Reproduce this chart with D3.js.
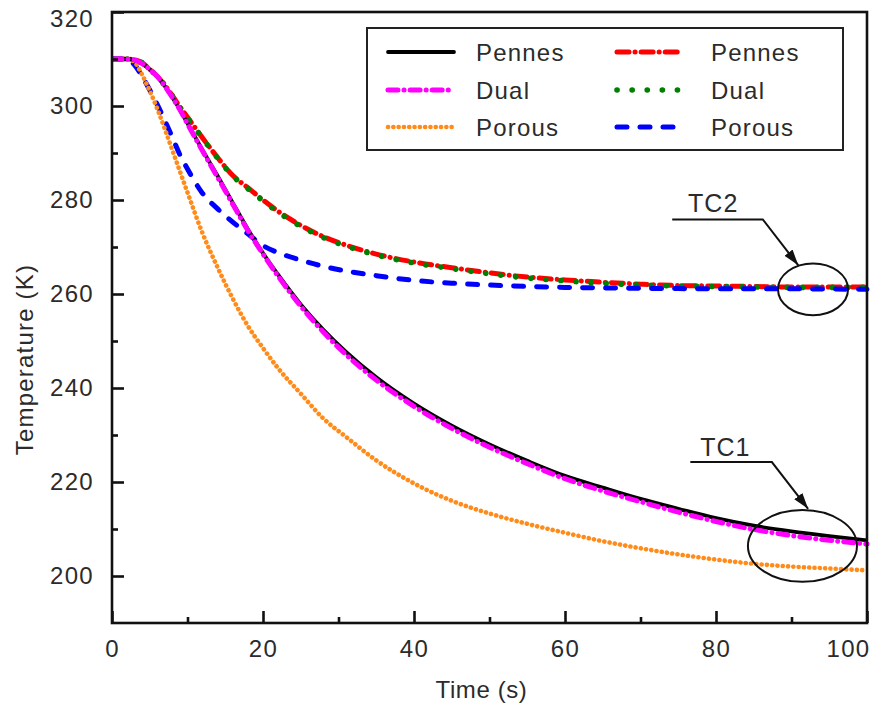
<!DOCTYPE html>
<html>
<head>
<meta charset="utf-8">
<script src="https://cdn.jsdelivr.net/npm/d3@7/dist/d3.min.js"></script>
<style>
  html, body { margin: 0; padding: 0; background: #fff; }
  svg text { font-family: "Liberation Sans", Arial, sans-serif; fill: #2b2b2b; }
</style>
</head>
<body>
<svg id="chart" width="881" height="707"></svg>
<script>
// ---------- data ----------
const timeTC1 = [0, 2, 3, 4, 5, 6, 7, 8, 9, 10, 12, 14, 16, 18, 20, 22, 25, 28, 31, 35, 40, 45, 50, 55, 60, 65, 70, 75, 80, 85, 90, 95, 100];
const pennesTC1 = [310, 310, 309.8, 309, 307.8, 306.3, 304.2, 301.8, 299.2, 296.3, 290.6, 285.1, 279.4, 273.8, 268.7, 264.1, 257.8, 252.4, 247.7, 242.3, 236.7, 232.0, 228.0, 224.5, 221.3, 218.8, 216.4, 214.3, 212.3, 210.7, 209.5, 208.5, 207.6];
const dualTC1 = [310, 310, 309.8, 309, 307.8, 306.3, 304.2, 301.8, 299.2, 296.2, 290.4, 284.8, 279.1, 273.5, 268.5, 263.8, 257.4, 251.9, 247.1, 241.7, 236.1, 231.4, 227.4, 223.9, 220.7, 218.1, 215.8, 213.6, 211.6, 209.9, 208.6, 207.6, 206.8];
const porousTC1 = [310, 310, 309.3, 306.6, 303.2, 299.4, 295.1, 290.6, 286.1, 281.6, 272.9, 265.6, 259.0, 253.2, 248.5, 244.2, 238.8, 233.5, 229.6, 224.6, 219.7, 216.0, 213.3, 211.1, 209.2, 207.4, 205.9, 204.6, 203.5, 202.6, 202.0, 201.6, 201.2];

const timeTC2 = [0, 2, 3, 4, 5, 6, 7, 8, 9, 10, 12, 14, 16, 18, 20, 22, 25, 28, 31, 35, 40, 45, 50, 55, 60, 65, 70, 75, 80, 85, 90, 95, 100];
const pennesTC2 = [310, 310, 309.8, 309.2, 307.8, 306.3, 304.4, 302.2, 299.8, 297.6, 293.2, 289.0, 285.2, 282.6, 280.0, 277.6, 274.6, 272.2, 270.4, 268.5, 266.8, 265.6, 264.5, 263.6, 263.0, 262.5, 262.1, 261.8, 261.7, 261.6, 261.5, 261.5, 261.5];
const dualTC2 = [310, 310, 309.8, 309.2, 307.8, 306.3, 304.4, 302.1, 299.7, 297.5, 293.1, 288.9, 285.1, 282.4, 279.8, 277.4, 274.4, 272.0, 270.2, 268.3, 266.6, 265.4, 264.3, 263.4, 262.8, 262.3, 261.9, 261.7, 261.6, 261.5, 261.4, 261.4, 261.4];
const porousTC2 = [310, 310, 308.7, 306.3, 303.4, 300.3, 296.9, 293.3, 289.6, 286.6, 281.4, 278.1, 275.3, 272.8, 270.3, 268.8, 267.2, 265.9, 264.9, 263.9, 262.9, 262.3, 261.9, 261.6, 261.4, 261.3, 261.2, 261.15, 261.1, 261.1, 261.1, 261.05, 261.0];

const xTicks = [0, 20, 40, 60, 80, 100];
const xMinorTicks = [10, 30, 50, 70, 90];
const yTicks = [200, 220, 240, 260, 280, 300, 320];
const yMinorTicks = [210, 230, 250, 270, 290, 310];

const legendLabels = ["Pennes", "Dual", "Porous", "Pennes", "Dual", "Porous"];

// annotation anchors in data units
const tc2Label = { text: "TC2", t: 76.3, T: 277.4 };
const tc2Leader = [[74.2, 275.85], [86.2, 275.85], [90.9, 266.1]];
const tc2Ellipse = { t: 92.85, T: 261.0, rt: 4.64, rT: 5.5 };
const tc1Label = { text: "TC1", t: 77.9, T: 225.6 };
const tc1Leader = [[76.6, 224.25], [87.4, 224.25], [92.2, 214.3]];
const tc1Ellipse = { t: 91.45, T: 206.4, rt: 7.22, rT: 7.64 };

// ---------- layout ----------
const svg = d3.select("#chart");
const L = 112, R = 867, T0 = 12, B = 623;
const x = d3.scaleLinear().domain([0, 100]).range([L, R]);
const y = d3.scaleLinear().domain([190, 320]).range([B, T0]);

const defs = svg.append("defs");
defs.append("clipPath").attr("id", "clip")
  .append("rect").attr("x", L).attr("y", T0 - 4).attr("width", R - L + 3).attr("height", B - T0 + 4);

const styles = {
  pennes1: { color: "#000000", width: 3.8, dash: null, cap: "butt" },
  dual1:   { color: "#ff00ff", width: 5, dash: "10,6,0.1,6", cap: "round" },
  porous1: { color: "#ff8c1a", width: 4.6, dash: "0.1,5.2", cap: "round" },
  pennes2: { color: "#ff0000", width: 5, dash: "12,6,0.1,6", cap: "round" },
  dual2:   { color: "#008000", width: 5.6, dash: "0.1,15", cap: "round" },
  porous2: { color: "#0000ff", width: 5, dash: "10,13", cap: "round" }
};

const line = d3.line().x(d => x(d[0])).y(d => y(d[1])).curve(d3.curveMonotoneX);
const plot = svg.append("g").attr("clip-path", "url(#clip)");

function drawSeries(times, vals, st) {
  const p = plot.append("path")
    .datum(times.map((t, i) => [t, vals[i]]))
    .attr("d", line)
    .attr("fill", "none")
    .attr("stroke", st.color)
    .attr("stroke-width", st.width)
    .attr("stroke-linecap", st.cap)
    .attr("stroke-linejoin", "round");
  if (st.dash) p.attr("stroke-dasharray", st.dash);
}

drawSeries(timeTC2, pennesTC2, styles.pennes2);
drawSeries(timeTC2, dualTC2, styles.dual2);
drawSeries(timeTC2, porousTC2, styles.porous2);
drawSeries(timeTC1, porousTC1, styles.porous1);
drawSeries(timeTC1, pennesTC1, styles.pennes1);
drawSeries(timeTC1, dualTC1, styles.dual1);

// ---------- axes ----------
const fontSize = "24px";
const xAxis = svg.append("g").attr("transform", `translate(0,${B})`)
  .call(d3.axisBottom(x).tickValues(xTicks).tickSize(-12).tickPadding(17).tickFormat(d3.format("d")));
const xMinor = svg.append("g").attr("transform", `translate(0,${B})`)
  .call(d3.axisBottom(x).tickValues(xMinorTicks).tickSize(-6).tickFormat(""));
const yAxis = svg.append("g").attr("transform", `translate(${L},0)`)
  .call(d3.axisLeft(y).tickValues(yTicks).tickSize(-12).tickPadding(18).tickFormat(d3.format("d")));
const yMinor = svg.append("g").attr("transform", `translate(${L},0)`)
  .call(d3.axisLeft(y).tickValues(yMinorTicks).tickSize(-6).tickFormat(""));

[xAxis, xMinor, yAxis, yMinor].forEach(g => {
  g.select(".domain").remove();
  g.selectAll(".tick line").attr("stroke", "#111").attr("stroke-width", 2.6);
  g.selectAll(".tick text").attr("font-size", fontSize).attr("font-family", "Liberation Sans, Arial, sans-serif")
    .attr("fill", "#2b2b2b").style("letter-spacing", "1.3px");
});
// keep edge labels inside the picture, as in the reference
xAxis.selectAll(".tick text").filter(d => d === 100).attr("text-anchor", "end").attr("x", 3);
yAxis.selectAll(".tick text").filter(d => d === 320).attr("dy", "0.6em");

svg.append("rect").attr("x", L).attr("y", T0).attr("width", R - L).attr("height", B - T0)
  .attr("fill", "none").attr("stroke", "#111").attr("stroke-width", 2.6);

svg.append("text").attr("x", (L + R) / 2 - 8).attr("y", 698).attr("text-anchor", "middle")
  .attr("font-size", fontSize).style("letter-spacing", "0.6px").text("Time (s)");
svg.append("text").attr("transform", `translate(33,${(T0 + B) / 2 + 42}) rotate(-90)`)
  .attr("text-anchor", "middle").attr("font-size", fontSize).style("letter-spacing", "1.2px").text("Temperature (K)");

// ---------- legend ----------
const lg = svg.append("g");
lg.append("rect").attr("x", 367).attr("y", 28).attr("width", 476).attr("height", 122)
  .attr("fill", "#fff").attr("stroke", "#222").attr("stroke-width", 2);
const legendStyles = [styles.pennes1, styles.dual1, styles.porous1, styles.pennes2, styles.dual2, styles.porous2];
const rowY = [52, 90, 127];
const colX = [[388, 454, 476], [617, 683, 711]];
legendLabels.forEach((lab, i) => {
  const c = Math.floor(i / 3), r = i % 3;
  const st = legendStyles[i];
  const ln = lg.append("line").attr("x1", colX[c][0]).attr("x2", colX[c][1])
    .attr("y1", rowY[r]).attr("y2", rowY[r])
    .attr("stroke", st.color).attr("stroke-width", st.width).attr("stroke-linecap", st.cap === "butt" ? "round" : st.cap);
  if (st.dash) ln.attr("stroke-dasharray", st.dash);
  lg.append("text").attr("x", colX[c][2]).attr("y", rowY[r] + 9).attr("font-size", fontSize)
    .style("letter-spacing", "1.2px").text(lab);
});

// ---------- annotations ----------
defs.append("marker").attr("id", "arrow")
  .attr("viewBox", "0 0 10 10").attr("refX", 10).attr("refY", 5)
  .attr("markerWidth", 16).attr("markerHeight", 16).attr("markerUnits", "userSpaceOnUse")
  .attr("orient", "auto")
  .append("path").attr("d", "M0,1.8 L10,5 L0,8.2 Z").attr("fill", "#111");

function annotate(label, leader, ell) {
  svg.append("text").attr("x", x(label.t)).attr("y", y(label.T)).attr("font-size", "25px")
    .style("letter-spacing", "1px").text(label.text);
  svg.append("path").datum(leader)
    .attr("d", d3.line().x(d => x(d[0])).y(d => y(d[1])))
    .attr("fill", "none").attr("stroke", "#111").attr("stroke-width", 2)
    .attr("marker-end", "url(#arrow)");
  svg.append("ellipse").attr("cx", x(ell.t)).attr("cy", y(ell.T))
    .attr("rx", x(ell.rt) - x(0)).attr("ry", y(190) - y(190 + ell.rT))
    .attr("fill", "none").attr("stroke", "#111").attr("stroke-width", 2);
}
annotate(tc2Label, tc2Leader, tc2Ellipse);
annotate(tc1Label, tc1Leader, tc1Ellipse);
</script>
</body>
</html>
